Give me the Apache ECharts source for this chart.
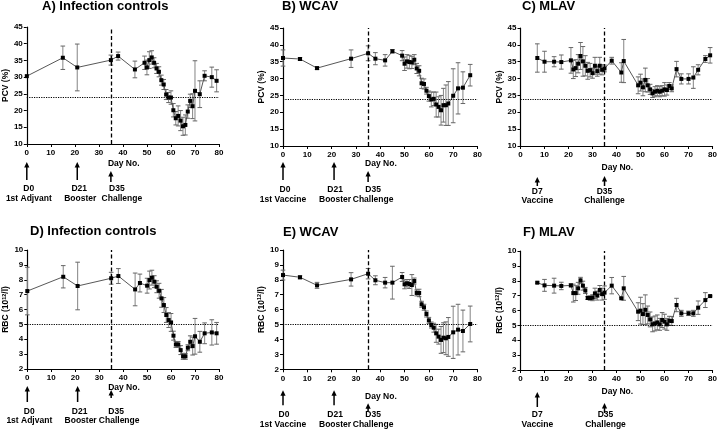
<!DOCTYPE html>
<html><head><meta charset="utf-8">
<script src="https://cdn.jsdelivr.net/npm/echarts@6/dist/echarts.min.js"></script>
<style>html,body{margin:0;padding:0;background:#fff}#c{width:720px;height:430px}</style>
</head><body><div id="c"></div>
<script>
// ---------- DATA ----------
const aDays = [0,15,21,35,38,45,49,50,51,52,53,54,55,56,57,58,59,60,61,62,63,64,65,66,67,68,69,70,72,74,77,79];
const aPcv = [30.3,35.8,32.9,35.1,36.3,32.3,34.3,32.9,35.1,35.9,34.3,32.6,31.6,29.1,27.8,24.8,23.9,23.9,20.1,17.7,18.4,17.0,15.3,15.7,19.7,22.9,21.3,25.9,24.9,30.4,30.0,28.9];
const aErr = [0,3.5,7,1.5,1.2,2.5,2,2.2,2.5,2,1.5,1.5,1.5,1.5,1.5,1.5,1.5,2,2,2,3,3,2.7,3,2,2,3.7,9,4,1.5,3,3.3];

const bDays = [0,7,14,28,35,38,42,45,49,50,51,52,53,54,55,56,57,58,59,60,61,62,63,64,65,66,67,68,70,72,74,77];
const bPcv = [36.1,35.8,33.1,35.9,37.5,35.9,35.4,38.1,36.8,34.4,35.1,34.9,34.8,35.6,33.0,32.3,28.6,28.4,26.4,24.8,23.8,24.0,22.3,21.6,20.6,22.1,22.1,22.6,24.9,27.1,27.3,31.0];
const bErr = [2.4,0.4,0.4,2.6,2.2,1.8,1.7,0.5,1.5,2,2,2,1.8,1.5,1.5,1.5,1.5,1.5,1,1.5,2.2,2,3.7,3,4.4,5,6,6.5,8,7.6,4.7,3.2];

const cDays = [7,10,14,17,21,22,23,24,25,26,27,28,29,30,31,32,33,34,35,38,42,43,49,50,51,52,53,54,55,56,57,58,59,60,61,62,63,65,67,70,72,74,77,79];
const cPcv = [36.1,35.0,35.0,34.9,35.4,32.7,33.1,34.4,36.7,35.1,33.8,32.3,32.5,31.6,33.8,32.2,33.8,32.6,33.0,35.3,31.8,35.2,28.0,28.8,27.4,29.6,28.0,26.8,25.6,26.1,26.4,26.1,26.4,26.8,26.6,27.8,27.1,32.8,29.9,29.9,30.3,32.6,35.8,36.9];
const cErr = [4.2,3.1,1.5,2.1,3.8,2.7,2.5,2.7,4,4.4,3,2.5,2,1.5,2.5,1.5,2.5,1.5,1,1,2.9,6.4,2.5,2.5,2.5,3.5,2,1.5,1.2,1.5,1.5,1.5,1.5,2,1.5,1,1,2.3,1.5,1.5,3.2,1.5,1,2.3];

const dDays = [0,15,21,35,38,45,47,50,51,52,53,54,55,56,57,58,59,60,61,62,63,64,65,66,67,68,69,70,72,74,77,79];
const dRbc = [7.24,8.2,7.58,8.1,8.25,7.35,7.78,7.6,7.98,8.14,7.87,7.53,7.26,6.75,6.3,5.63,5.29,5.13,4.24,3.65,3.65,3.27,2.85,2.85,3.43,3.83,3.54,4.2,3.83,4.4,4.46,4.4];
const dErr = [1.6,0.75,1.6,0.4,0.5,1.1,0.6,0.5,0.6,0.5,0.4,0.4,0.5,0.6,0.5,0.5,0.5,0.6,0.3,0.2,0.2,0.3,0.2,0.2,0.2,0.4,0.6,1.2,0.7,0.7,0.85,0.73];

const eDays = [0,7,14,28,35,38,42,45,49,50,51,52,53,54,55,56,57,58,59,60,61,62,63,64,65,66,67,68,70,72,74,77];
const eRbc = [8.32,8.17,7.63,8.03,8.41,7.97,7.81,7.81,8.19,7.7,7.77,7.72,7.65,7.92,7.12,7.12,6.36,6.16,5.71,5.28,4.97,4.79,4.41,4.19,3.97,4.12,4.08,4.17,4.48,4.66,4.57,5.04];
const eErr = [0.33,0.1,0.2,0.45,0.35,0.3,0.35,1.1,0.3,0.3,0.25,0.3,0.7,0.2,0.2,0.25,0.2,0.2,0.2,0.2,0.2,0.3,0.6,0.5,0.9,1,1.1,1.3,1.75,1.7,1.4,1.2];

const fDays = [7,10,14,17,21,22,23,24,25,26,27,28,29,30,31,32,33,34,35,38,42,43,49,50,51,52,53,54,55,56,57,58,59,60,61,62,63,65,67,70,72,74,77,79];
const fRbc = [7.87,7.69,7.67,7.65,7.69,7.17,7.17,7.49,8.03,7.67,7.35,6.84,6.84,6.86,7.15,7.0,7.38,7.1,7.2,7.67,6.82,7.49,5.92,5.99,5.76,6.05,5.7,5.4,5.07,5.13,5.2,5.07,5.36,5.25,5.07,5.31,5.29,6.37,5.81,5.81,5.81,6.19,6.7,6.97];
const fErr = [0.05,0.4,0.5,0.25,0.1,0.6,0.5,0.4,0.2,0.3,0.2,0.1,0.15,0.2,0.35,0.3,0.3,0.4,0.45,0.55,0.05,0.8,0.6,0.9,0.7,1,0.6,0.5,0.5,0.5,0.5,0.4,0.5,0.5,0.4,0.3,0.3,0.45,0.2,0.15,0.2,0.45,0.5,0.05];

const titles = ['A) Infection controls','B) WCAV','C) MLAV','D) Infection controls','E) WCAV','F) MLAV'];
const challengeDay = 35;
const pcvThreshold = 24;
const rbcThreshold = 5;

const arrowDays1 = [0,21,35];
const arrowTop1 = ['D0','D21','D35'];
const arrowBottomCtrl = ['1st Adjvant','Booster','Challenge'];
const arrowBottomWcav = ['1st Vaccine','Booster','Challenge'];
const arrowDays2 = [7,35];
const arrowTop2 = ['D7','D35'];
const arrowBottomMlav = ['Vaccine','Challenge'];

// ---------- LAYOUT ----------
const FF = '"Liberation Sans", Arial, Helvetica, sans-serif';
const panels = [
  {days:aDays, vals:aPcv, err:aErr, pcv:true, grid:{left:26,top:27,width:193,height:117}, tl:[42,0],
   ar:{days:arrowDays1, t1:arrowTop1, t2:arrowBottomCtrl, tip:[18,18,27], bot:[36,36,38], y1:45, y2:55, dn:20, dx1:[2,2,6], dx2:[2,3,11]}},
  {days:bDays, vals:bPcv, err:bErr, pcv:true, grid:{left:283,top:28,width:194.5,height:118}, tl:[282,0],
   ar:{days:arrowDays1, t1:arrowTop1, t2:arrowBottomWcav, tip:[16,16,25], bot:[34,34,36], y1:44, y2:54, dn:18, dx1:[2,1,5], dx2:[0,1,5]}},
  {days:cDays, vals:cPcv, err:cErr, pcv:true, grid:{left:520.5,top:28,width:194,height:118}, tl:[522,0],
   ar:{days:arrowDays2, t1:arrowTop2, t2:arrowBottomMlav, tip:[31,30], bot:[40,40], y1:46, y2:55, dn:22, dx1:[0,0], dx2:[0,0]}},
  {days:dDays, vals:dRbc, err:dErr, pcv:false, grid:{left:25.7,top:250,width:193.3,height:119}, tl:[30,225],
   ar:{days:arrowDays1, t1:arrowTop1, t2:arrowBottomCtrl, tip:[17,17,21], bot:[33,33,29], y1:43, y2:52, dn:19, dx1:[2,2,5], dx2:[2,3,8]}},
  {days:eDays, vals:eRbc, err:eErr, pcv:false, grid:{left:283,top:250,width:194.5,height:119.3}, tl:[283,226],
   ar:{days:arrowDays1, t1:arrowTop1, t2:arrowBottomWcav, tip:[21,21,34], bot:[36,36,42], y1:45, y2:55, dn:27, dx1:[1,1,5], dx2:[0,1,5]}},
  {days:fDays, vals:fRbc, err:fErr, pcv:false, grid:{left:520.5,top:251,width:194,height:119}, tl:[523,226],
   ar:{days:arrowDays2, t1:arrowTop2, t2:arrowBottomMlav, tip:[22,33], bot:[37,43], y1:45, y2:55, dn:22, dx1:[0,1], dx2:[0,1]}}
];

function errRender(params, api){
  const x = api.value(0), lo = api.value(1), hi = api.value(2);
  if (!(hi > lo)) return null;
  const p1 = api.coord([x, hi]), p2 = api.coord([x, lo]);
  const w = 2.3;
  const st = {stroke:'#8f8f8f', lineWidth:1.1};
  return {type:'group', children:[
    {type:'line', shape:{x1:p1[0],y1:p1[1],x2:p2[0],y2:p2[1]}, style:st},
    {type:'line', shape:{x1:p1[0]-w,y1:p1[1],x2:p1[0]+w,y2:p1[1]}, style:{stroke:'#666',lineWidth:1}},
    {type:'line', shape:{x1:p2[0]-w,y1:p2[1],x2:p2[0]+w,y2:p2[1]}, style:{stroke:'#666',lineWidth:1}}
  ]};
}

const grids=[], xAxes=[], yAxes=[], series=[], titleOpts=[];
panels.forEach((p,i)=>{
  grids.push(Object.assign({containLabel:false}, p.grid));
  titleOpts.push({text:titles[i], left:p.tl[0], top:p.tl[1], padding:0,
    textStyle:{fontFamily:FF, fontWeight:'bold', fontSize:13, color:'#000'}});
  xAxes.push({type:'value', gridIndex:i, min:0, max:80, interval:10,
    axisLine:{show:true, lineStyle:{color:'#000', width:1.2}},
    axisTick:{show:true, length:3, lineStyle:{color:'#000', width:1}},
    axisLabel:{fontFamily:FF, fontWeight:'bold', fontSize:8, color:'#000', margin:5},
    splitLine:{show:false}});
  yAxes.push({type:'value', gridIndex:i,
    min:p.pcv?10:2, max:p.pcv?45:10, interval:p.pcv?5:1,
    name: p.pcv ? 'PCV (%)' : '{n|RBC (10}{s|12}{n|/l)}',
    nameLocation:'middle', nameGap:16, nameRotate:90,
    nameTextStyle:{fontFamily:FF, fontWeight:'bold', fontSize:8.5, color:'#000',
      rich:{n:{fontFamily:FF, fontWeight:'bold', fontSize:8.5, color:'#000'},
            s:{fontFamily:FF, fontWeight:'bold', fontSize:5.5, color:'#000', verticalAlign:'top', padding:[0,0,4,0]}}},
    axisLine:{show:true, lineStyle:{color:'#000', width:1.2}},
    axisTick:{show:true, length:3, lineStyle:{color:'#000', width:1}},
    axisLabel:{fontFamily:FF, fontWeight:'bold', fontSize:8, color:'#000', margin:4},
    splitLine:{show:false}});
  series.push({type:'custom', xAxisIndex:i, yAxisIndex:i, z:1, silent:true,
    renderItem:errRender, encode:{x:0, y:[1,2]},
    data:p.days.map((d,k)=>[d, p.vals[k]-p.err[k], p.vals[k]+p.err[k]])});
  series.push({type:'line', xAxisIndex:i, yAxisIndex:i, z:3, silent:true,
    data:p.days.map((d,k)=>[d,p.vals[k]]),
    symbol:'rect', symbolSize:4, showSymbol:true,
    itemStyle:{color:'#000'}, lineStyle:{color:'#444', width:0.9},
    markLine:{silent:true, symbol:'none', label:{show:false}, animation:false,
      data:[{xAxis:challengeDay, lineStyle:{type:[4,2.5], color:'#000', width:1.3}},
            {yAxis:p.pcv?pcvThreshold:rbcThreshold, lineStyle:{type:[1.2,1.2], color:'#000', width:1.2}}]}});
});

const chart = echarts.init(document.getElementById('c'), null, {renderer:'canvas'});
chart.setOption({animation:false, backgroundColor:'#fff', title:titleOpts, grid:grids, xAxis:xAxes, yAxis:yAxes, series:series});

// annotations below axes
const gfx = [];
const txt = (s,x,y,align)=>({type:'text', silent:true, style:{text:s, x:x, y:y, align:align||'center', verticalAlign:'middle',
  font:'bold 8.5px '+FF, fill:'#000'}});
panels.forEach((p,i)=>{
  const ymin = p.pcv?10:2;
  const a = p.ar;
  const axisY = chart.convertToPixel({gridIndex:i},[0,ymin])[1];
  const cx = chart.convertToPixel({gridIndex:i},[challengeDay,ymin])[0];
  gfx.push(txt('Day No.', cx-3, axisY+a.dn, 'left'));
  a.days.forEach((d,k)=>{
    const x = chart.convertToPixel({gridIndex:i},[d,ymin])[0];
    const t = axisY+a.tip[k], b = axisY+a.bot[k];
    gfx.push({type:'polygon', silent:true, shape:{points:[[x-2.6,t+5.5],[x+2.6,t+5.5],[x,t]]}, style:{fill:'#000'}});
    gfx.push({type:'line', silent:true, shape:{x1:x,y1:t+4,x2:x,y2:b}, style:{stroke:'#000', lineWidth:1.5}});
    gfx.push(txt(a.t1[k], x+a.dx1[k], axisY+a.y1));
    gfx.push(txt(a.t2[k], x+a.dx2[k], axisY+a.y2));
  });
});
chart.setOption({graphic:gfx});
</script></body></html>
